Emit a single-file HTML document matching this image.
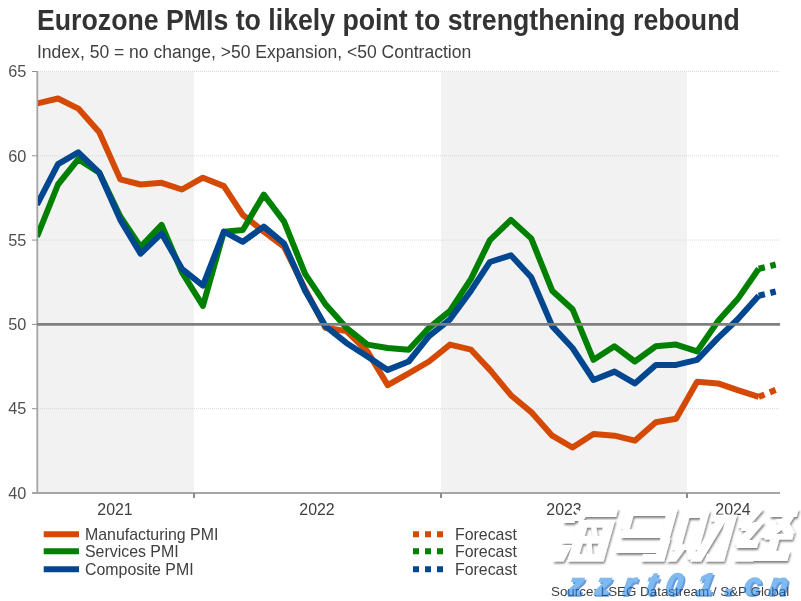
<!DOCTYPE html>
<html><head><meta charset="utf-8"><title>Eurozone PMIs</title>
<style>
html,body{margin:0;padding:0;background:#fff;}
body{width:801px;height:601px;position:relative;overflow:hidden;font-family:"Liberation Sans",sans-serif;color:#404040;}
.t{position:absolute;white-space:nowrap;line-height:1;will-change:transform;}
#title{left:37.2px;top:7.6px;font-size:26.7px;font-weight:bold;color:#333;transform:scaleY(1.09);transform-origin:0 22.3px;}
#sub{left:37.1px;top:44px;font-size:17.55px;color:#404040;}
.yl{left:0;width:26.4px;text-align:right;font-size:16.3px;color:#505050;transform:scaleY(1.045);transform-origin:0 13.8px;}
.xl{font-size:15.9px;color:#404040;transform:translateX(-50%);}
.lg{font-size:15.9px;color:#404040;}
#src{left:550.8px;top:584.8px;font-size:13.37px;color:#404040;}
svg{position:absolute;left:0;top:0;}
</style></head><body>
<svg width="801" height="601" viewBox="0 0 801 601">
<defs><clipPath id="pc"><rect x="38" y="60" width="742" height="440"/></clipPath></defs>
<rect x="38" y="72" width="156" height="420" fill="#f2f2f2"/>
<rect x="441" y="72" width="246" height="420" fill="#f2f2f2"/>
<line x1="38" y1="71.5" x2="779" y2="71.5" stroke="#d8d8d8" stroke-width="1" stroke-dasharray="1 1"/>
<line x1="32" y1="71.5" x2="38" y2="71.5" stroke="#909090" stroke-width="1"/>
<line x1="38" y1="155.8" x2="779" y2="155.8" stroke="#d8d8d8" stroke-width="1" stroke-dasharray="1 1"/>
<line x1="32" y1="155.8" x2="38" y2="155.8" stroke="#909090" stroke-width="1"/>
<line x1="38" y1="240.1" x2="779" y2="240.1" stroke="#d8d8d8" stroke-width="1" stroke-dasharray="1 1"/>
<line x1="32" y1="240.1" x2="38" y2="240.1" stroke="#909090" stroke-width="1"/>
<line x1="38" y1="408.7" x2="779" y2="408.7" stroke="#d8d8d8" stroke-width="1" stroke-dasharray="1 1"/>
<line x1="32" y1="408.7" x2="38" y2="408.7" stroke="#909090" stroke-width="1"/>
<line x1="37.3" y1="71" x2="37.3" y2="494" stroke="#a4a4a4" stroke-width="1.8"/>
<line x1="32" y1="493" x2="780" y2="493" stroke="#a6a6a6" stroke-width="2"/>
<line x1="194" y1="493" x2="194" y2="498" stroke="#8c8c8c" stroke-width="2"/>
<line x1="441" y1="493" x2="441" y2="498" stroke="#8c8c8c" stroke-width="2"/>
<line x1="687" y1="493" x2="687" y2="498" stroke="#8c8c8c" stroke-width="2"/>
<polyline clip-path="url(#pc)" points="37.0,103.5 58.0,98.5 78.3,108.6 99.3,132.2 120.3,179.4 140.6,184.5 161.6,182.8 181.9,189.5 202.9,177.7 223.9,186.1 242.8,214.8 263.8,231.7 284.1,246.8 305.1,289.0 325.4,327.8 346.4,331.1 367.4,351.4 387.7,385.1 408.7,373.3 429.0,361.5 450.0,344.6 471.0,349.7 489.9,369.9 510.9,395.2 531.2,412.1 552.2,435.7 572.5,447.5 593.5,434.0 614.5,435.7 634.8,440.7 655.8,422.2 676.1,418.8 697.1,381.7 718.1,383.4 737.7,390.2 758.7,396.9" fill="none" stroke="#d44a05" stroke-width="6" stroke-linejoin="round" stroke-linecap="butt"/>
<polyline clip-path="url(#pc)" points="37.0,236.7 58.0,184.5 78.3,159.2 99.3,172.7 120.3,216.5 140.6,246.8 161.6,224.9 181.9,272.1 202.9,305.9 223.9,231.7 242.8,230.0 263.8,194.6 284.1,221.6 305.1,273.8 325.4,304.2 346.4,327.8 367.4,344.6 387.7,348.0 408.7,349.7 429.0,327.8 450.0,310.9 471.0,278.9 489.9,240.1 510.9,219.9 531.2,238.4 552.2,290.7 572.5,309.2 593.5,359.8 614.5,346.3 634.8,361.5 655.8,346.3 676.1,344.6 697.1,351.4 718.1,321.0 737.7,299.1 758.7,268.8" fill="none" stroke="#008000" stroke-width="6" stroke-linejoin="round" stroke-linecap="butt"/>
<polyline clip-path="url(#pc)" points="37.0,204.7 58.0,164.2 78.3,152.4 99.3,172.7 120.3,219.9 140.6,253.6 161.6,233.4 181.9,268.8 202.9,285.6 223.9,231.7 242.8,241.8 263.8,226.6 284.1,243.5 305.1,290.7 325.4,326.1 346.4,342.9 367.4,356.4 387.7,369.9 408.7,361.5 429.0,336.2 450.0,319.3 471.0,290.7 489.9,262.0 510.9,255.3 531.2,277.2 552.2,326.1 572.5,348.0 593.5,380.0 614.5,371.6 634.8,383.4 655.8,364.9 676.1,364.9 697.1,359.8 718.1,337.9 737.7,319.3 758.7,295.7" fill="none" stroke="#00478f" stroke-width="6" stroke-linejoin="round" stroke-linecap="butt"/>
<line x1="758.7" y1="396.9" x2="775.7" y2="389.9" stroke="#d44a05" stroke-width="6.2" stroke-dasharray="6.3 5.7"/>
<line x1="758.7" y1="268.8" x2="775.7" y2="264.6" stroke="#008000" stroke-width="6.2" stroke-dasharray="6.3 5.7"/>
<line x1="758.7" y1="295.7" x2="775.7" y2="291.6" stroke="#00478f" stroke-width="6.2" stroke-dasharray="6.3 5.7"/>
<line x1="32" y1="324.4" x2="38" y2="324.4" stroke="#909090" stroke-width="1"/>
<line x1="37" y1="324.4" x2="780" y2="324.4" stroke="#7f7f7f" stroke-width="2.8"/>
<line x1="43.7" y1="534.2" x2="79" y2="534.2" stroke="#d44a05" stroke-width="6"/>
<line x1="413" y1="534.2" x2="443" y2="534.2" stroke="#d44a05" stroke-width="6" stroke-dasharray="6 6"/>
<line x1="43.7" y1="551.3" x2="79" y2="551.3" stroke="#008000" stroke-width="6"/>
<line x1="413" y1="551.3" x2="443" y2="551.3" stroke="#008000" stroke-width="6" stroke-dasharray="6 6"/>
<line x1="43.7" y1="569.2" x2="79" y2="569.2" stroke="#00478f" stroke-width="6"/>
<line x1="413" y1="569.2" x2="443" y2="569.2" stroke="#00478f" stroke-width="6" stroke-dasharray="6 6"/>
</svg>
<div class="t" id="title">Eurozone PMIs to likely point to strengthening rebound</div>
<div class="t" id="sub">Index, 50 = no change, &gt;50 Expansion, &lt;50 Contraction</div>
<div class="t yl" style="top:63px">65</div>
<div class="t yl" style="top:147.8px">60</div>
<div class="t yl" style="top:231.8px">55</div>
<div class="t yl" style="top:316px">50</div>
<div class="t yl" style="top:400px">45</div>
<div class="t yl" style="top:485px">40</div>
<div class="t xl" style="left:115px;top:502px">2021</div>
<div class="t xl" style="left:317px;top:502px">2022</div>
<div class="t xl" style="left:564px;top:502px">2023</div>
<div class="t xl" style="left:733px;top:502px">2024</div>
<div class="t lg" style="left:85.2px;top:527.2px">Manufacturing PMI</div>
<div class="t lg" style="left:85.2px;top:544.3px">Services PMI</div>
<div class="t lg" style="left:85.2px;top:561.8px">Composite PMI</div>
<div class="t lg" style="left:454.6px;top:527.2px">Forecast</div>
<div class="t lg" style="left:454.6px;top:544.3px">Forecast</div>
<div class="t lg" style="left:454.6px;top:561.8px">Forecast</div>
<svg id="wm" width="801" height="601" viewBox="0 0 801 601" style="opacity:1">
<defs><filter id="ds" x="-5%" y="-10%" width="110%" height="125%"><feGaussianBlur in="SourceAlpha" stdDeviation="1.3"/><feOffset dx="1.3" dy="1.5"/><feComponentTransfer><feFuncA type="linear" slope="0.5"/></feComponentTransfer><feMerge><feMergeNode/><feMergeNode in="SourceGraphic"/></feMerge></filter></defs>
<path d="M565.6,515.0 L576.6,515.0 L574.3,523.0 L563.3,523.0Z M563.7,536.0 L610.7,536.0 L608.6,543.5 L561.6,543.5Z M562.2,545.0 L572.2,545.0 L563.5,561.6 L552.5,561.6Z M583.4,508.5 L618.4,508.5 L616.0,517.0 L581.0,517.0Z M579.9,510.2 L583.4,508.5 L591.4,508.5 L582.9,521.0 L570.9,521.0Z M579.2,520.0 L589.2,520.0 L577.5,561.6 L567.5,561.6Z M605.2,520.0 L615.2,520.0 L603.5,561.6 L593.5,561.6Z M579.2,520.0 L615.2,520.0 L613.1,527.5 L577.1,527.5Z M569.6,554.0 L605.6,554.0 L603.5,561.6 L567.5,561.6Z M591.2,527.0 L596.2,527.0 L597.7,536.0 L592.7,536.0Z M586.7,543.0 L591.7,543.0 L592.4,555.0 L587.4,555.0Z M626.0,508.5 L678.0,508.5 L675.9,516.0 L623.9,516.0Z M624.9,516.0 L633.4,516.0 L629.7,529.0 L621.2,529.0Z M623.2,529.0 L672.2,529.0 L669.7,538.0 L620.7,538.0Z M668.0,508.5 L678.0,508.5 L669.7,538.0 L659.7,538.0Z M660.7,538.0 L670.7,538.0 L664.1,561.6 L654.1,561.6Z M643.2,554.0 L656.2,554.0 L654.1,561.6 L641.1,561.6Z M617.8,545.0 L659.8,545.0 L657.5,553.0 L615.5,553.0Z M683.4,510.5 L691.4,510.5 L680.4,550.0 L672.4,550.0Z M683.4,510.5 L709.9,510.5 L707.8,518.0 L681.3,518.0Z M702.4,510.5 L709.9,510.5 L698.9,550.0 L691.4,550.0Z M673.9,544.5 L700.4,544.5 L698.9,550.0 L672.4,550.0Z M675.4,550.0 L684.4,550.0 L676.1,561.6 L666.1,561.6Z M686.4,550.0 L695.4,550.0 L697.7,559.6 L687.7,559.6Z M712.3,514.6 L737.3,514.6 L735.3,521.5 L710.3,521.5Z M727.3,514.6 L737.3,514.6 L724.1,561.6 L714.1,561.6Z M707.2,554.0 L716.2,554.0 L714.1,561.6 L705.1,561.6Z M715.3,521.5 L725.3,521.5 L701.1,561.6 L690.1,561.6Z M753.8,509.0 L763.8,509.0 L747.5,528.0 L737.5,528.0Z M742.9,523.0 L757.9,523.0 L755.7,531.0 L740.7,531.0Z M754.2,522.0 L764.7,522.0 L744.8,545.0 L734.3,545.0Z M738.2,540.0 L759.2,540.0 L756.9,548.0 L735.9,548.0Z M736.0,555.0 L755.8,552.0 L753.1,561.6 L734.1,561.6Z M771.8,509.0 L798.8,509.0 L796.6,517.0 L769.6,517.0Z M787.8,509.0 L798.8,509.0 L789.6,524.0 L770.7,538.0 L758.7,538.0 L778.6,524.0Z M775.8,520.0 L785.6,517.0 L795.1,533.0 L785.3,536.0Z M765.8,534.0 L793.8,534.0 L792.3,539.5 L764.3,539.5Z M770.4,539.0 L779.4,539.0 L775.5,553.0 L766.5,553.0Z M756.1,551.0 L790.1,551.0 L787.3,561.0 L753.3,561.0Z" fill="#fff" fill-rule="nonzero" filter="url(#ds)"/>
</svg>
<div class="t" id="src">Source: LSEG Datastream / S&amp;P Global</div>
<svg id="wm2" width="801" height="601" viewBox="0 0 801 601">
<g opacity="0.58">
<text transform="translate(568.8,595.9) skewX(-9)" x="0" y="0" font-family="Liberation Sans, sans-serif" font-weight="bold" font-style="italic" font-size="29.5" fill="#0057c0" stroke="#0057c0" stroke-width="1.5" stroke-linejoin="miter">z</text>
<text transform="translate(596.3,595.9) skewX(-9)" x="0" y="0" font-family="Liberation Sans, sans-serif" font-weight="bold" font-style="italic" font-size="29.5" fill="#0057c0" stroke="#0057c0" stroke-width="1.5" stroke-linejoin="miter">z</text>
<text transform="translate(624.0,595.9) skewX(-9)" x="0" y="0" font-family="Liberation Sans, sans-serif" font-weight="bold" font-style="italic" font-size="29.5" fill="#0057c0" stroke="#0057c0" stroke-width="1.5" stroke-linejoin="miter">r</text>
<text transform="translate(646.7,595.9) skewX(-9)" x="0" y="0" font-family="Liberation Sans, sans-serif" font-weight="bold" font-style="italic" font-size="30.5" fill="#0057c0" stroke="#0057c0" stroke-width="1.5" stroke-linejoin="miter">t</text>
<text transform="translate(666.3,595.9) skewX(-9)" x="0" y="0" font-family="Liberation Sans, sans-serif" font-weight="bold" font-style="italic" font-size="29.5" fill="#0057c0" stroke="#0057c0" stroke-width="1.5" stroke-linejoin="miter">0</text>
<text transform="translate(697.2,595.9) skewX(-9)" x="0" y="0" font-family="Liberation Sans, sans-serif" font-weight="bold" font-style="italic" font-size="29.5" fill="#0057c0" stroke="#0057c0" stroke-width="1.5" stroke-linejoin="miter">1</text>
<text transform="translate(726.0,595.9) skewX(-9)" x="0" y="0" font-family="Liberation Sans, sans-serif" font-weight="bold" font-style="italic" font-size="29.5" fill="#0057c0" stroke="#0057c0" stroke-width="1.5" stroke-linejoin="miter">.</text>
<text transform="translate(744.7,595.9) skewX(-9)" x="0" y="0" font-family="Liberation Sans, sans-serif" font-weight="bold" font-style="italic" font-size="29.5" fill="#0057c0" stroke="#0057c0" stroke-width="1.5" stroke-linejoin="miter">c</text>
<text transform="translate(770.0,595.9) skewX(-9)" x="0" y="0" font-family="Liberation Sans, sans-serif" font-weight="bold" font-style="italic" font-size="29.5" fill="#0057c0" stroke="#0057c0" stroke-width="1.5" stroke-linejoin="miter">n</text>
<text transform="translate(567.1,594.4) skewX(-9)" x="0" y="0" font-family="Liberation Sans, sans-serif" font-weight="bold" font-style="italic" font-size="29.5" fill="#2389e8" stroke="#2389e8" stroke-width="1.5" stroke-linejoin="miter">z</text>
<text transform="translate(594.6,594.4) skewX(-9)" x="0" y="0" font-family="Liberation Sans, sans-serif" font-weight="bold" font-style="italic" font-size="29.5" fill="#2389e8" stroke="#2389e8" stroke-width="1.5" stroke-linejoin="miter">z</text>
<text transform="translate(622.3,594.4) skewX(-9)" x="0" y="0" font-family="Liberation Sans, sans-serif" font-weight="bold" font-style="italic" font-size="29.5" fill="#2389e8" stroke="#2389e8" stroke-width="1.5" stroke-linejoin="miter">r</text>
<text transform="translate(645.0,594.4) skewX(-9)" x="0" y="0" font-family="Liberation Sans, sans-serif" font-weight="bold" font-style="italic" font-size="30.5" fill="#2389e8" stroke="#2389e8" stroke-width="1.5" stroke-linejoin="miter">t</text>
<text transform="translate(664.6,594.4) skewX(-9)" x="0" y="0" font-family="Liberation Sans, sans-serif" font-weight="bold" font-style="italic" font-size="29.5" fill="#2389e8" stroke="#2389e8" stroke-width="1.5" stroke-linejoin="miter">0</text>
<text transform="translate(695.5,594.4) skewX(-9)" x="0" y="0" font-family="Liberation Sans, sans-serif" font-weight="bold" font-style="italic" font-size="29.5" fill="#2389e8" stroke="#2389e8" stroke-width="1.5" stroke-linejoin="miter">1</text>
<text transform="translate(724.3,594.4) skewX(-9)" x="0" y="0" font-family="Liberation Sans, sans-serif" font-weight="bold" font-style="italic" font-size="29.5" fill="#2389e8" stroke="#2389e8" stroke-width="1.5" stroke-linejoin="miter">.</text>
<text transform="translate(743.0,594.4) skewX(-9)" x="0" y="0" font-family="Liberation Sans, sans-serif" font-weight="bold" font-style="italic" font-size="29.5" fill="#2389e8" stroke="#2389e8" stroke-width="1.5" stroke-linejoin="miter">c</text>
<text transform="translate(768.3,594.4) skewX(-9)" x="0" y="0" font-family="Liberation Sans, sans-serif" font-weight="bold" font-style="italic" font-size="29.5" fill="#2389e8" stroke="#2389e8" stroke-width="1.5" stroke-linejoin="miter">n</text>
</g>
</svg>
</body></html>
